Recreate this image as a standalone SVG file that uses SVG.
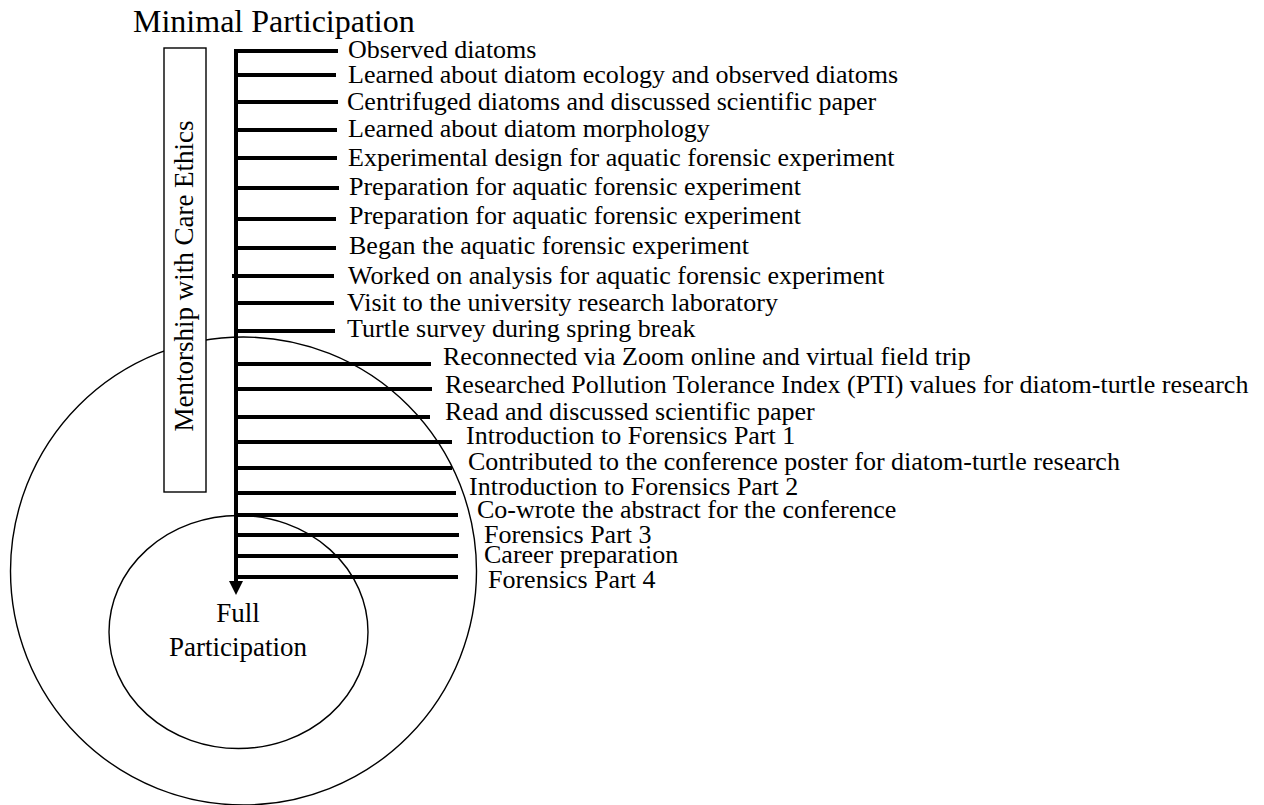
<svg xmlns="http://www.w3.org/2000/svg" width="1264" height="805" viewBox="0 0 1264 805">
<style>
text{font-family:"Liberation Serif","Times New Roman",serif;fill:#000}
.lbl{font-size:26px}
.big{font-size:32px}
.mid{font-size:27px}
.ring{fill:none;stroke:#000;stroke-width:1.4}
.bar{stroke:#000;stroke-width:4;fill:none}
</style>
<rect width="1264" height="805" fill="#fff"/>
<g id="outer-circle"><ellipse class="ring" cx="243.5" cy="571" rx="233" ry="234"/></g>
<g id="inner-circle"><ellipse class="ring" cx="238.5" cy="632" rx="129.5" ry="116.5"/>
<text class="mid" x="238" y="622" text-anchor="middle">Full</text>
<text class="mid" x="238" y="656" text-anchor="middle">Participation</text></g>
<g id="title"><text class="big" x="133" y="32">Minimal Participation</text></g>
<g id="mentorship"><rect x="164" y="48" width="42" height="444" fill="#fff" stroke="#000" stroke-width="1.4"/>
<text class="mid" transform="translate(192.5,276) rotate(-90)" text-anchor="middle">Mentorship with Care Ethics</text></g>
<g id="connectors">
<line class="bar" x1="236" y1="49" x2="236" y2="583"/>
<polygon points="229,581 243,581 236,595" fill="#000"/>
<line class="bar" x1="234" y1="51" x2="338" y2="51"/>
<line class="bar" x1="236" y1="75" x2="336" y2="75"/>
<line class="bar" x1="236" y1="102" x2="338" y2="102"/>
<line class="bar" x1="236" y1="130" x2="337" y2="130"/>
<line class="bar" x1="236" y1="158" x2="337" y2="158"/>
<line class="bar" x1="236" y1="188" x2="339" y2="188"/>
<line class="bar" x1="236" y1="219" x2="336" y2="219"/>
<line class="bar" x1="236" y1="248" x2="336" y2="248"/>
<line class="bar" x1="232" y1="276" x2="334" y2="276"/>
<line class="bar" x1="236" y1="303" x2="334" y2="303"/>
<line class="bar" x1="238" y1="331" x2="335" y2="331"/>
<line class="bar" x1="236" y1="364" x2="431" y2="364"/>
<line class="bar" x1="236" y1="389" x2="432" y2="389"/>
<line class="bar" x1="236" y1="417" x2="430" y2="417"/>
<line class="bar" x1="236" y1="442" x2="452" y2="442"/>
<line class="bar" x1="236" y1="468" x2="452" y2="468"/>
<line class="bar" x1="236" y1="493" x2="456" y2="493"/>
<line class="bar" x1="236" y1="515" x2="458" y2="515"/>
<line class="bar" x1="236" y1="535" x2="459" y2="535"/>
<line class="bar" x1="236" y1="556" x2="458" y2="556"/>
<line class="bar" x1="236" y1="577" x2="458" y2="577"/>
</g>
<g id="labels">
<text class="lbl" x="348" y="58">Observed diatoms</text>
<text class="lbl" x="348" y="83">Learned about diatom ecology and observed diatoms</text>
<text class="lbl" x="347" y="110">Centrifuged diatoms and discussed scientific paper</text>
<text class="lbl" x="348" y="137">Learned about diatom morphology</text>
<text class="lbl" x="348" y="166">Experimental design for aquatic forensic experiment</text>
<text class="lbl" x="349" y="195">Preparation for aquatic forensic experiment</text>
<text class="lbl" x="349" y="224">Preparation for aquatic forensic experiment</text>
<text class="lbl" x="349" y="254">Began the aquatic forensic experiment</text>
<text class="lbl" x="348" y="284">Worked on analysis for aquatic forensic experiment</text>
<text class="lbl" x="347" y="311">Visit to the university research laboratory</text>
<text class="lbl" x="347" y="337">Turtle survey during spring break</text>
<text class="lbl" x="443" y="365">Reconnected via Zoom online and virtual field trip</text>
<text class="lbl" x="445" y="393">Researched Pollution Tolerance Index (PTI) values for diatom-turtle research</text>
<text class="lbl" x="445" y="420">Read and discussed scientific paper</text>
<text class="lbl" x="466" y="444">Introduction to Forensics Part 1</text>
<text class="lbl" x="468" y="470">Contributed to the conference poster for diatom-turtle research</text>
<text class="lbl" x="469" y="495">Introduction to Forensics Part 2</text>
<text class="lbl" x="477" y="518">Co-wrote the abstract for the conference</text>
<text class="lbl" x="484" y="543">Forensics Part 3</text>
<text class="lbl" x="484" y="563">Career preparation</text>
<text class="lbl" x="488" y="588">Forensics Part 4</text>
</g>
</svg>
